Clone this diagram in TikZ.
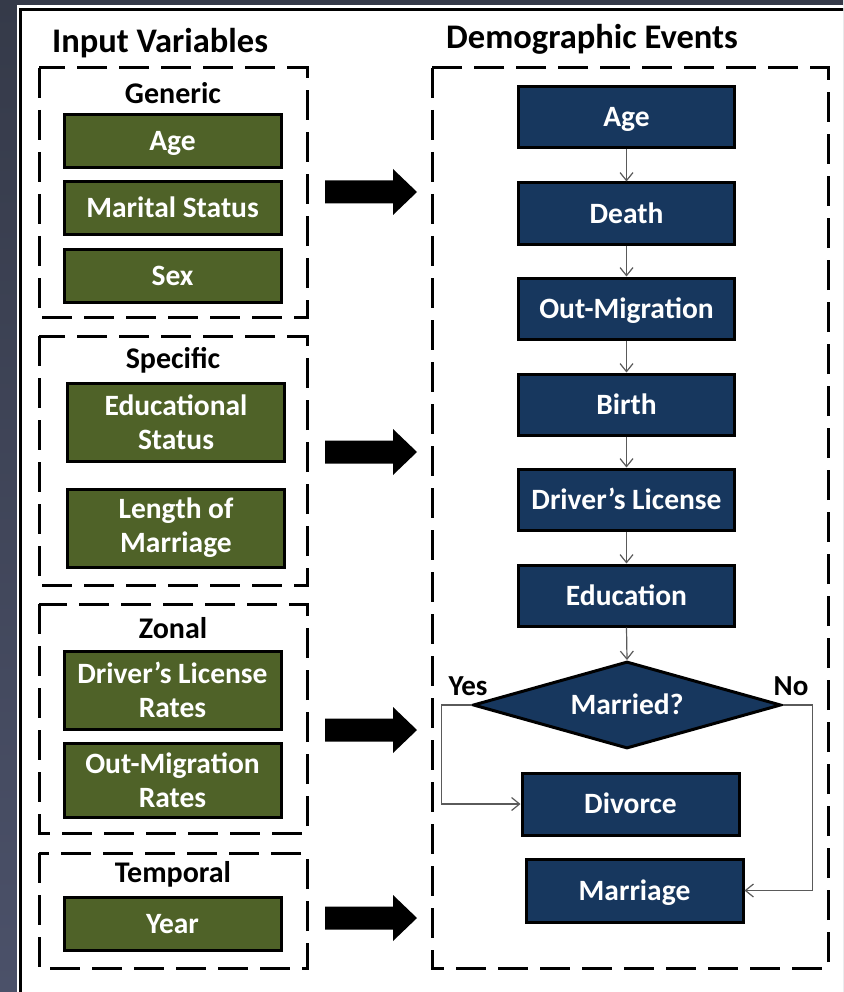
\documentclass[tikz,border=0pt]{standalone}
\usepackage{fontspec}
\setmainfont{Carlito}
\usetikzlibrary{arrows.meta,shapes.geometric}
\definecolor{olivebox}{HTML}{4F6228}
\definecolor{navybox}{HTML}{17375E}
\definecolor{slatetop}{HTML}{353A49}
\definecolor{slatebot}{HTML}{4B5169}
\definecolor{linkgray}{HTML}{5A5A5A}
\tikzset{
  group/.style={draw=black, line width=3pt, dash pattern=on 30pt off 12pt},
  boxbase/.style={draw=black, line width=3pt, text=white, align=center,
    inner sep=0pt, font=\fontsize{29.5}{34}\selectfont\bfseries},
  oneline/.style={text height=19pt, text depth=0pt},
  inbox/.style={boxbase, fill=olivebox, minimum width=217pt},
  evbox/.style={boxbase, oneline, fill=navybox, minimum width=216pt, minimum height=61pt},
  decision/.style={boxbase, oneline, fill=navybox, shape=diamond, aspect=3.5,
    minimum width=308pt, minimum height=87pt},
  head/.style={font=\fontsize{34.5}{40}\selectfont\bfseries},
  sub/.style={font=\fontsize{30}{34}\selectfont\bfseries},
  branch/.style={font=\fontsize{29}{33}\selectfont\bfseries},
  link/.style={draw=linkgray, line width=1.2pt,
    -{Straight Barb[length=8pt,width=13pt]}},
}
\begin{document}
\begin{tikzpicture}[x=1pt,y=-1pt]
\useasboundingbox (0,0) rectangle (843,992);
\clip (0,0) rectangle (843,992);

% slide background and white panel with its frame
\shade[top color=slatetop, bottom color=slatebot] (0,0) rectangle (843,992);
\fill[white] (17,5) rectangle (880,1020);
\draw[line width=3pt] (20.5,10) rectangle (900,1040);

% headings
\node[head] (tin) at (160,43) {Input Variables};
\node[head] (tev) at (592,39) {Demographic Events};

% input variable groups
\draw[group] (39,68) rectangle (307,317);
\draw[group] (39,336) rectangle (307,585);
\draw[group] (39,604) rectangle (307,833);
\draw[group] (39,853) rectangle (307,968);

\node[sub] (lgen)  at (173,93)  {Generic};
\node[sub] (lspec) at (173,360) {Specific};
\node[sub] (lzon)  at (173,628) {Zonal};
\node[sub] (ltemp) at (173,874) {Temporal};

\node[inbox, oneline, minimum height=53pt] (vage) at (172.5,141.5) {Age};
\node[inbox, oneline, minimum height=53pt] (vmar) at (172.5,208.5) {Marital Status};
\node[inbox, oneline, minimum height=53pt] (vsex) at (172.5,275.5) {Sex};
\node[inbox, minimum height=78pt] (vedu) at (176,422) {Educational\\Status};
\node[inbox, minimum height=78pt] (vlen) at (176,528) {Length of\\Marriage};
\node[inbox, minimum height=78pt] (vdlr) at (172.5,690) {Driver’s License\\Rates};
\node[inbox, minimum height=74pt] (vomr) at (172.5,780) {Out-Migration\\Rates};
\node[inbox, oneline, minimum height=53pt] (vyr)  at (172.5,923.5) {Year};

% block arrows feeding the event sequence
\foreach \c in {192,452,730,918}
  \fill[black] (325,\c-11.5) -- (393,\c-11.5) -- (393,\c-23) -- (417,\c)
    -- (393,\c+23) -- (393,\c+11.5) -- (325,\c+11.5) -- cycle;

% demographic events
\draw[group] (432,68) rectangle (828,968);

\node[evbox] (eage)  at (626.5,117.5) {Age};
\node[evbox] (edth)  at (626.5,213.5) {Death};
\node[evbox] (eout)  at (626.5,308.5) {Out-Migration};
\node[evbox] (ebir)  at (626.5,404.5) {Birth};
\node[evbox] (edl)   at (626.5,499.5) {Driver’s License};
\node[evbox] (eedu)  at (626.5,595.5) {Education};
\node[decision] (emar) at (627,705) {Married?};
\node[evbox, minimum width=217pt, minimum height=62pt] (ediv) at (630.5,804) {Divorce};
\node[evbox, minimum width=217pt, minimum height=63pt] (emge) at (634.5,890.5) {Marriage};

\draw[link] (eage) -- (edth);
\draw[link] (edth) -- (eout);
\draw[link] (eout) -- (ebir);
\draw[link] (ebir) -- (edl);
\draw[link] (edl) -- (eedu);
\draw[link] (eedu.south) -- (emar.north);
\draw[link] (emar.west) -- ++(-30,0) |- (ediv.west);
\draw[link] (emar.east) -- ++(30,0) |- (emge.east);

\node[branch] (lyes) at (468,686) {Yes};
\node[branch] (lno)  at (791,686) {No};
\end{tikzpicture}
\end{document}
